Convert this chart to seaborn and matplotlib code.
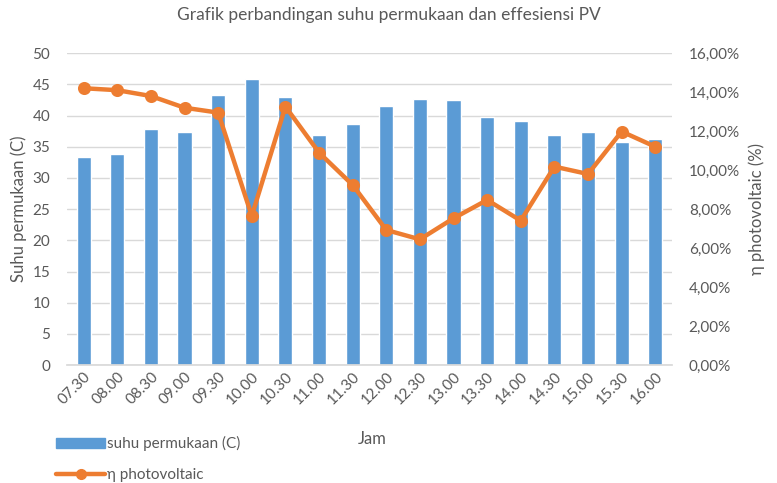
import numpy as np
import pandas as pd
import matplotlib
matplotlib.use("Agg")
import matplotlib.pyplot as plt
import seaborn as sns
from matplotlib.ticker import FuncFormatter, MultipleLocator
from matplotlib.patches import Patch
from matplotlib.lines import Line2D

jam = ["07.30", "08.00", "08.30", "09.00", "09.30", "10.00", "10.30", "11.00", "11.30",
       "12.00", "12.30", "13.00", "13.30", "14.00", "14.30", "15.00", "15.30", "16.00"]
suhu = [33.3, 33.9, 37.8, 37.3, 43.3, 45.9, 42.9, 36.9, 38.6,
        41.6, 42.7, 42.5, 39.7, 39.2, 36.9, 37.4, 35.7, 36.3]
eff = [14.2, 14.1, 13.8, 13.2, 12.95, 7.65, 13.26, 10.9, 9.24,
       6.93, 6.45, 7.53, 8.47, 7.41, 10.18, 9.8, 11.98, 11.2]

df = pd.DataFrame({"jam": jam, "suhu": suhu, "eff": eff})

blue = "#5B9BD5"
orange = "#ED7D31"
grey = "#595959"

sns.set_theme(style="white")
plt.rcParams["font.family"] = ["Lato", "DejaVu Sans"]

fig = plt.figure(figsize=(7.77, 4.83), dpi=100)
ax = fig.add_axes([0.086, 0.244, 0.779, 0.646])

sns.barplot(data=df, x="jam", y="suhu", color=blue, width=0.42, saturation=1, ax=ax, zorder=2)
ax.set_ylim(0, 50)
ax.yaxis.set_major_locator(MultipleLocator(5))
ax.grid(axis="y", color="#D9D9D9", linewidth=1, zorder=0)
ax.set_axisbelow(True)
for s in ["top", "right", "left"]:
    ax.spines[s].set_visible(False)
ax.spines["bottom"].set_color("#D9D9D9")
ax.tick_params(axis="both", length=0, colors=grey, labelsize=11)
ax.tick_params(axis="y", pad=12)
plt.setp(ax.get_xticklabels(), rotation=45, ha="right", rotation_mode="anchor")
ax.set_ylabel("Suhu permukaan (C)", color=grey, fontsize=12)
ax.set_xlabel("Jam", color=grey, fontsize=12)
ax.xaxis.set_label_coords(0.504, -0.21)

ax2 = ax.twinx()
sns.pointplot(data=df, x="jam", y="eff", color=orange, ax=ax2,
              markers="o", markersize=7, linewidth=3.2)
ax2.set_ylim(0, 16)
ax2.yaxis.set_major_locator(MultipleLocator(2))
ax2.yaxis.set_major_formatter(FuncFormatter(lambda v, p: f"{v:.2f}%".replace(".", ",")))
for s in ["top", "right", "left", "bottom"]:
    ax2.spines[s].set_visible(False)
ax2.tick_params(axis="y", length=0, colors=grey, labelsize=11, pad=12)
ax2.set_ylabel("η photovoltaic (%)", color=grey, fontsize=12, labelpad=6)
ax2.grid(False)

fig.suptitle("Grafik perbandingan suhu permukaan dan effesiensi PV", color=grey,
             fontsize=12.5, y=0.985)

handles = [Patch(color=blue, label="suhu permukaan (C)"),
           Line2D([0], [0], color=orange, lw=3.2, marker="o", markersize=7, label="η photovoltaic")]
fig.legend(handles=handles, loc="upper left", bbox_to_anchor=(0.055, 0.125), frameon=False,
           fontsize=11, labelcolor=grey, handlelength=3.2, handletextpad=0.1, labelspacing=1.1)

fig.savefig("out.png", dpi=100)
